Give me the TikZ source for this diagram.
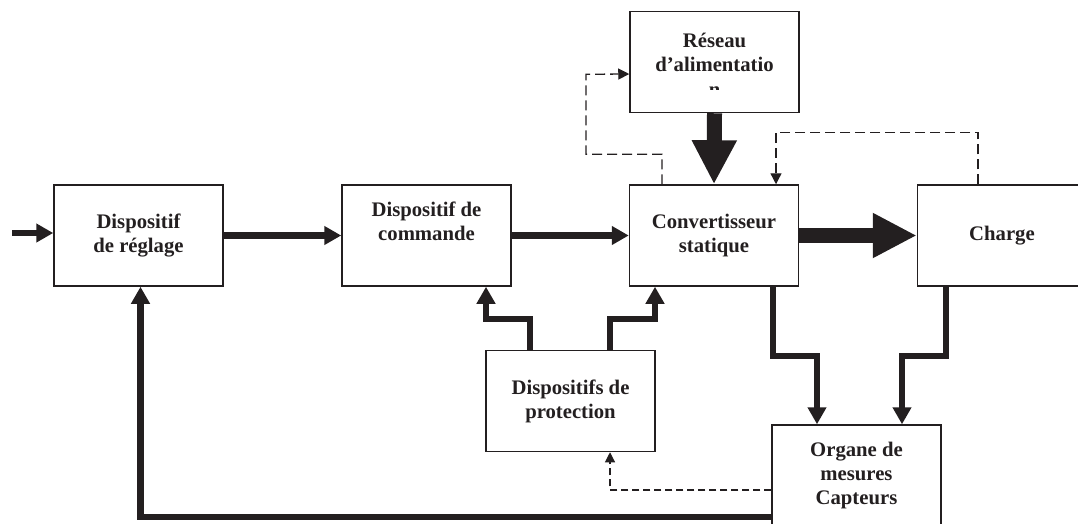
\documentclass[tikz,border=0pt]{standalone}
\usepackage{fontspec}
\setmainfont{Liberation Serif}
\usetikzlibrary{arrows.meta}
\definecolor{ink}{HTML}{231F20}

\tikzset{
  bloc/.style={draw=ink, line width=1.5pt, minimum width=169pt, minimum height=101pt,
    inner sep=0pt, align=center, text=ink, font=\bfseries\fontsize{20.7}{24}\selectfont},
  lbl/.style={inner sep=0pt, text=ink, font=\bfseries\fontsize{20.7}{24}\selectfont},
  flux/.style={draw=ink, line width=6.5pt, -{Triangle[length=17pt,width=18pt]}},
  puissance/.style={draw=ink, line width=15pt, -{Triangle[length=44pt,width=42pt]}},
  ordre/.style={draw=ink, line width=1.3pt, dash pattern=on 10pt off 5pt,
    -{Triangle[length=11pt,width=11pt]}},
  alerte/.style={draw=ink, line width=1.1pt, dash pattern=on 7pt off 4pt,
    -{Triangle[length=10pt,width=10pt]}}
}

\begin{document}
\begin{tikzpicture}[x=1pt,y=-1pt]
  \useasboundingbox (0,0) rectangle (1078,523);
  % blocs
  \node[bloc] (reg) at (138.5,235.5) {Dispositif\\de réglage};
  \node[bloc, text depth=29pt] (cmd) at (426.5,235.5) {Dispositif de\\commande};
  \node[bloc] (conv) at (714,235.5) {Convertisseur\\statique};
  \node[bloc] (chg) at (1002,235.5) {Charge};
  \node[bloc, text depth=20pt] (res) at (714.5,62) {Réseau\\d’alimentatio};
  \node[bloc] (prot) at (570.5,401) {Dispositifs de\\protection};
  \node[bloc] (org) at (856.5,475.5) {Organe de\\mesures\\Capteurs};
  \begin{scope}
    \clip (res.west) rectangle ([yshift=-27.5pt]res.east);
    \node[lbl, anchor=base] (resn) at ([yshift=-34pt]res.center) {n};
  \end{scope}
  \coordinate (entree) at (12,233);
  % chaine directe
  \draw[flux] (entree) -- (entree -| reg.west);
  \draw[flux] (reg.east) -- (cmd.west);
  \draw[flux] (cmd.east) -- (conv.west);
  \draw[puissance] (conv.east) -- (chg.west);
  \draw[puissance] (res.south) -- (conv.north);
  % protection
  \draw[flux] ([xshift=-40.5pt]prot.north) -- ++(0,-31) -| ([xshift=59.5pt]cmd.south);
  \draw[flux] ([xshift=39.5pt]prot.north) -- ++(0,-31) -| ([xshift=-59pt]conv.south);
  % mesures
  \draw[flux] ([xshift=59pt]conv.south) -- ++(0,69) -| ([xshift=-39.5pt]org.north);
  \draw[flux] ([xshift=-56pt]chg.south) -- ++(0,69) -| ([xshift=45.5pt]org.north);
  \draw[flux] ([yshift=-41.5pt]org.west) -| ([xshift=2pt]reg.south);
  % liaisons en pointilles
  \draw[ordre] ([xshift=-52pt]conv.north) -- ++(0,-30) -| ++(-76,-80) -- ([yshift=-12pt]res.west);
  \draw[ordre] ([xshift=-24pt]chg.north) -- ++(0,-52) -| ([xshift=62pt]conv.north);
  \draw[alerte] ([yshift=-14.5pt]org.west) -| ([xshift=39.5pt]prot.south);
\end{tikzpicture}
\end{document}
